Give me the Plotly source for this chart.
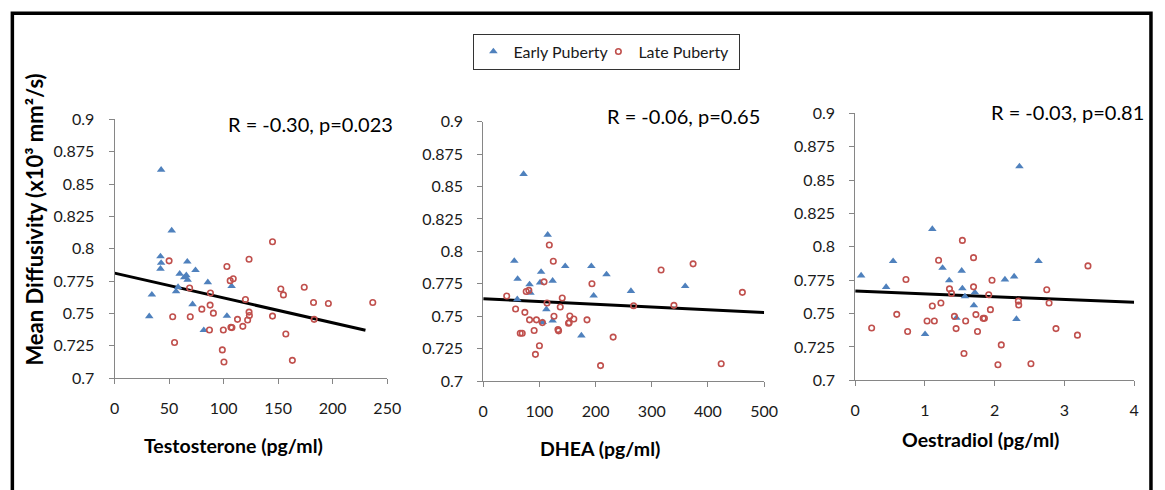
import plotly.graph_objects as go

# ---------------- data ----------------
# Panel 1: Testosterone (pg/ml)
testo_early_x = [42.7, 52.4, 42.1, 42.7, 42.1, 66.7, 59.7, 74.2, 63.9, 65.8, 67.0, 58.2, 56.4, 85.5, 107.3, 34.2, 71.5, 31.8, 103.0, 81.8]
testo_early_y = [0.861, 0.814, 0.794, 0.789, 0.7845, 0.790, 0.7806, 0.7834, 0.7778, 0.7794, 0.776, 0.7704, 0.767, 0.774, 0.771, 0.7645, 0.757, 0.7477, 0.748, 0.737]
testo_late_x = [50.0, 68.8, 53.3, 55.0, 69.4, 80.0, 87.9, 87.6, 90.6, 87.0, 99.7, 98.8, 100.3, 103.0, 106.0, 108.8, 106.7, 107.6,
                112.7, 117.6, 120.0, 123.3, 123.3, 123.6, 122.0, 144.8, 144.8, 152.4, 154.8, 157.0, 163.0, 173.9, 182.4, 183.0, 196.0, 236.7]
testo_late_y = [0.7906, 0.7696, 0.7474, 0.7275, 0.7474, 0.7533, 0.7658, 0.7564, 0.7502, 0.7372, 0.7372, 0.7218, 0.7124, 0.7863, 0.7753, 0.7768, 0.7392, 0.739,
                0.7454, 0.740, 0.7607, 0.7919, 0.751, 0.7484, 0.7449, 0.8054, 0.7479, 0.7689, 0.7643, 0.7341, 0.7137, 0.7702, 0.7584, 0.7454, 0.7576, 0.7584]
testo_trend_x = [0, 230]
testo_trend_y = [0.7811, 0.737]

# Panel 2: DHEA (pg/ml)
dhea_early_x = [71.8, 114.7, 55.3, 61.2, 103.0, 101.2, 82.4, 84.1, 123.5, 145.9, 192.4, 219.4, 196.5, 60.6, 112.4, 105.9, 123.5, 174.7, 262.9, 359.4]
dhea_early_y = [0.8596, 0.8128, 0.7926, 0.7788, 0.7842, 0.776, 0.7745, 0.768, 0.7773, 0.7886, 0.7886, 0.7822, 0.7658, 0.763, 0.7553, 0.7454, 0.7466, 0.7351, 0.7694, 0.7732]
dhea_late_x = [117.6, 124.7, 108.2, 76.5, 81.2, 41.8, 57.6, 74.1, 82.4, 94.7, 105.3, 113.5, 90.6, 65.9, 69.4, 100.0, 92.9, 140.6,
               137.1, 125.9, 133.0, 134.1, 154.1, 161.2, 153.0, 151.8, 184.7, 193.5, 231.2, 208.8, 267.6, 316.5, 339.4, 373.5, 423.5, 461.2]
dhea_late_y = [0.8049, 0.7924, 0.7765, 0.7691, 0.7699, 0.7656, 0.7556, 0.753, 0.7472, 0.7472, 0.7451, 0.7602, 0.739, 0.7369, 0.7369, 0.7272, 0.7206, 0.764,
               0.7571, 0.750, 0.7397, 0.7387, 0.7502, 0.7479, 0.7451, 0.7446, 0.7472, 0.775, 0.7339, 0.7119, 0.7581, 0.7857, 0.7584, 0.7904, 0.7134, 0.7684]
dhea_trend_x = [0, 500]
dhea_trend_y = [0.7635, 0.7528]

# Panel 3: Oestradiol (pg/ml)
oest_early_x = [2.355, 1.106, 0.544, 2.629, 1.253, 1.527, 0.085, 2.279, 2.147, 1.348, 0.444, 1.537, 1.716, 1.574, 1.702, 1.452, 2.312, 1.002]
oest_early_y = [0.8602, 0.8133, 0.7892, 0.7892, 0.7842, 0.782, 0.7785, 0.7777, 0.7755, 0.7748, 0.7698, 0.7688, 0.7658, 0.7628, 0.7561, 0.7467, 0.7459, 0.7345]
oest_late_x = [1.537, 1.697, 1.196, 3.338, 0.728, 1.962, 1.352, 1.697, 2.747, 1.381, 1.915, 2.340, 2.345, 1.229, 2.780, 1.106, 1.939, 0.596,
               1.423, 1.731, 1.835, 1.853, 1.031, 1.135, 1.584, 0.236, 1.447, 2.879, 0.752, 1.754, 3.187, 2.095, 1.560, 2.047, 2.520]
oest_late_y = [0.8048, 0.7919, 0.7899, 0.7857, 0.7755, 0.775, 0.7685, 0.770, 0.7678, 0.7651, 0.7641, 0.7593, 0.7564, 0.7579, 0.7579, 0.7556, 0.7529, 0.7494,
               0.7479, 0.7492, 0.7464, 0.7464, 0.7444, 0.7444, 0.7444, 0.7392, 0.7387, 0.7387, 0.7365, 0.7365, 0.7338, 0.7265, 0.7201, 0.7116, 0.7124]
oest_trend_x = [0, 4]
oest_trend_y = [0.7668, 0.7584]

y_tickvals = [0.7, 0.725, 0.75, 0.775, 0.8, 0.825, 0.85, 0.875, 0.9]
y_ticktext = ["0.7", "0.725", "0.75", "0.775", "0.8", "0.825", "0.85", "0.875", "0.9"]
x_ranges = [[0, 250], [0, 500], [0, 4]]
x_dticks = [50, 100, 1]
x_titles = ["Testosterone (pg/ml)", "DHEA (pg/ml)", "Oestradiol (pg/ml)"]
stats_text = ["R = -0.30, p=0.023", "R = -0.06, p=0.65", "R = -0.03, p=0.81"]
y_title = "Mean Diffusivity (x10³ mm²/s)"
series_names = ["Early Puberty", "Late Puberty"]

# ---------------- styling / layout ----------------
W, H = 1165, 490
BLUE = "#4F81BD"
RED = "#C0504D"
AXIS = "#868686"
TXT = "#1a1a1a"
FONT = "Lato, sans-serif"

# the page renders the figure slightly inset; map target pixels to paper fractions
PX0, PXW = 2.56, W * 0.9944
PY0, PYH = 8.33, H * 0.9667


def fx(px):
    return (px - PX0) / PXW


def fy(py):
    return 1 - (py - PY0) / PYH


# panel plot areas in target pixels: (left, right, top, bottom)
boxes = [(113.3, 389.0, 118.3, 378.5), (486.0, 770.0, 120.7, 381.5), (862.0, 1144.0, 112.3, 380.7)]
x_domains = [[fx(l), fx(r)] for l, r, t, b in boxes]
y_domains = [[fy(b), fy(t)] for l, r, t, b in boxes]

panels = [
    (testo_early_x, testo_early_y, testo_late_x, testo_late_y, testo_trend_x, testo_trend_y),
    (dhea_early_x, dhea_early_y, dhea_late_x, dhea_late_y, dhea_trend_x, dhea_trend_y),
    (oest_early_x, oest_early_y, oest_late_x, oest_late_y, oest_trend_x, oest_trend_y),
]

fig = go.Figure()
for i, (ex, ey, lx, ly, tx, ty) in enumerate(panels):
    suffix = "" if i == 0 else str(i + 1)
    xa, ya = "x" + suffix, "y" + suffix
    fig.add_trace(go.Scatter(x=tx, y=ty, mode="lines", xaxis=xa, yaxis=ya,
                             line=dict(color="black", width=3), showlegend=False, hoverinfo="skip"))
    fig.add_trace(go.Scatter(x=ex, y=ey, mode="markers", xaxis=xa, yaxis=ya, name=series_names[0],
                             marker=dict(symbol="triangle-up", size=7.5, color=BLUE, line=dict(width=0)),
                             showlegend=(i == 0), legendgroup="early", legendwidth=80))
    fig.add_trace(go.Scatter(x=lx, y=ly, mode="markers", xaxis=xa, yaxis=ya, name=series_names[1],
                             marker=dict(symbol="circle-open", size=5.5, color=RED, line=dict(width=1.6, color=RED)),
                             showlegend=(i == 0), legendgroup="late", legendwidth=96))

layout_axes = {}
for i in range(3):
    suffix = "" if i == 0 else str(i + 1)
    layout_axes["xaxis" + suffix] = dict(
        domain=x_domains[i], range=x_ranges[i], dtick=x_dticks[i], tick0=0, anchor="y" + suffix,
        showline=True, linecolor=AXIS, linewidth=1, ticks="outside", ticklen=5, tickcolor=AXIS,
        showgrid=False, zeroline=False, ticklabelstandoff=11,
        tickfont=dict(family=FONT, size=16, color=TXT))
    layout_axes["yaxis" + suffix] = dict(
        domain=y_domains[i], range=[0.7, 0.9], tickvals=y_tickvals, ticktext=y_ticktext, anchor="x" + suffix,
        showline=True, linecolor=AXIS, linewidth=1, ticks="outside", ticklen=5, tickcolor=AXIS,
        showgrid=False, zeroline=False, ticklabelstandoff=11,
        tickfont=dict(family=FONT, size=16, color=TXT))

annotations = []
title_pos = [(234, 446), (604, 449), (989, 440)]
for (cx, cy), t in zip(title_pos, x_titles):
    annotations.append(dict(text="<b>" + t + "</b>", xref="paper", yref="paper", x=fx(cx), y=fy(cy),
                            xanchor="center", yanchor="middle", showarrow=False,
                            font=dict(family=FONT, size=19.5, color="black")))
stat_pos = [(226, 123), (609, 115), (997, 111)]
for (lx0, cy), t in zip(stat_pos, stats_text):
    annotations.append(dict(text=t, xref="paper", yref="paper", x=fx(lx0), y=fy(cy),
                            xanchor="left", yanchor="middle", showarrow=False,
                            font=dict(family=FONT, size=20, color="black")))
annotations.append(dict(text="<b>" + y_title + "</b>", xref="paper", yref="paper", x=fx(32), y=fy(219),
                        xanchor="center", yanchor="middle", showarrow=False, textangle=-90,
                        font=dict(family=FONT, size=22, color="black")))

fig.update_layout(
    width=W, height=H,
    margin=dict(l=0, r=0, t=0, b=0),
    paper_bgcolor="white", plot_bgcolor="white",
    showlegend=True,
    legend=dict(orientation="h", x=fx(611), xanchor="center", y=fy(32), yanchor="top",
                bordercolor="#333333", borderwidth=1, bgcolor="white",
                font=dict(family=FONT, size=16, color=TXT), itemwidth=30, tracegroupgap=0),
    annotations=annotations,
    shapes=[dict(type="rect", xref="paper", yref="paper", x0=fx(10), x1=fx(1161), y0=-0.1, y1=fy(11.5),
                 line=dict(color="black", width=3.5), fillcolor="rgba(0,0,0,0)")],
    **layout_axes,
)

fig.write_html("out.html")
